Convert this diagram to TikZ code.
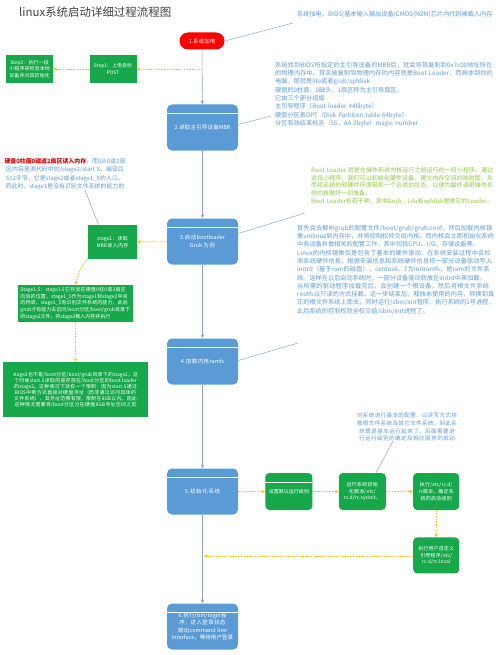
\documentclass[tikz,border=0pt]{standalone}
\usepackage{fontspec}
\setmainfont{Noto Sans CJK SC}
\XeTeXlinebreaklocale "zh"
\XeTeXlinebreakskip = 0pt plus 0.5pt
\usetikzlibrary{arrows.meta,positioning}

\definecolor{boxblue}{HTML}{5B9BD5}
\definecolor{boxgreen}{HTML}{17A84B}
\definecolor{notegreen}{HTML}{8DC63F}
\definecolor{noteblue}{HTML}{5B9BD5}
\definecolor{flowline}{HTML}{8AA5C8}
\definecolor{dotorange}{HTML}{FFC000}
\definecolor{titlegray}{HTML}{3F3F3F}

\begin{document}
\begin{tikzpicture}[x=1bp,y=-1bp,>={Stealth[length=4bp,width=3.4bp]},
  mainbox/.style={fill=boxblue,rounded corners=5bp,text=white,align=center,
             minimum width=71bp,minimum height=46bp,text width=64bp,inner sep=1bp,
             font=\fontsize{5.5}{7.5}\selectfont,
             path picture={\draw[white,line width=0.4bp]
               ([yshift=-8.5bp]path picture bounding box.north west) --
               ([yshift=-8.5bp]path picture bounding box.north east);}},
  stepbox/.style={fill=boxgreen,text=white,align=center,inner sep=1.5bp,
             font=\fontsize{5}{6.8}\selectfont},
  taskbox/.style={stepbox,rounded corners=4bp,minimum width=47bp,
             minimum height=37bp,text width=42bp},
  note/.style={text=noteblue,align=left,inner sep=0pt,
             font=\fontsize{6.2}{8.3}\selectfont},
  flow/.style={draw=flowline,line width=0.6bp,->},
  dots/.style={draw=dotorange,line width=0.9bp,dash pattern=on 1.4bp off 1.4bp,
             -{Stealth[length=3.6bp,width=3.4bp]}},
  leader/.style={draw=flowline,line width=0.5bp}]

\useasboundingbox (0,0) rectangle (500,655);

% ---- title ----
\node[anchor=west,inner sep=0pt,text=titlegray,font=\fontsize{11.5}{13}\selectfont]
  (title) at (19,12) {linux系统启动详细过程流程图};

% ---- main column ----
\node[fill=red,text=white,rounded corners=8.5bp,minimum width=45bp,minimum height=17bp,
      inner sep=0pt,font=\fontsize{5.5}{7}\selectfont] (power) at (202,41) {1.系统加电};
\node[mainbox] (mbr)   at (202.5,127.5) {2.读取主引导设备MBR};
\node[mainbox] (boot)  at (202.5,241.5) {3.启动bootloader\\Grub为例};
\node[mainbox] (ramfs) at (202.5,361.5) {4.加载内核ramfs};
\node[mainbox] (init)  at (202.5,491.5) {5.初始化系统};
\node[mainbox] (login) at (202.5,626.5)
  {6.执行/bin/login程序，进入登录状态\\输出command line interface，等待用户登录};

\foreach \a/\b in {power/mbr,mbr/boot,boot/ramfs,ramfs/init,init/login}
  \draw[flow] (\a) -- (\b);

% ---- power on: POST ----
\coordinate (tap) at (202,69);
\node[stepbox,minimum width=46bp,minimum height=28bp,text width=44bp,
      font=\fontsize{4.9}{6.8}\selectfont] (step1) at (113,69)
  {Step1：上电自检\\POST};
\node[stepbox,minimum width=47bp,minimum height=28bp,text width=44bp,left=36bp of step1] (step2)
  {Step2：执行一段小程序来检验本地设备并对其初始化};
\draw[dots] (tap) -- (step1);
\draw[dots] (step1) -- (step2);

% ---- grub stages ----
\node[stepbox,minimum width=49bp,minimum height=34bp,text width=44bp] (stage1) at (112.5,242)
  {stage1：读取MBR读入内存};
\node[stepbox,minimum width=115bp,minimum height=37bp,text width=110bp,align=left] (stage15)
  at (75.5,303.5)
  {Stage1.5：stage1.5它存放在硬盘0柱0道3扇区向后的位置，stage1\_5作为stage1和stage2中间的桥梁，stage1\_5有识别文件系统的能力，此后grub才有能力去访问/boot分区/boot/grub目录下的stage2文件，将stage2载入内存并执行};
\node[stepbox,minimum width=145bp,minimum height=55bp,text width=136bp,
      font=\fontsize{4.9}{6}\selectfont] (stage2) at (75.5,389.5)
  {stage2也不是/boot分区/boot/grub目录下的stage2，这个时候start.S读取的是存放在/boot分区的boot.loader的stage2。这种情况下就有一个限制：因为start.S通过BIOS中断方式直接对硬盘寻址（而非通过访问具体的文件系统），其寻址范围有限，限制在8GB以内。因此这种情况需要将/boot分区分在硬盘8GB寻址空间之前};
\draw[dots] (boot) -- (stage1);
\draw[dots] (stage1.south west) .. controls (80,268) .. (stage15.north);
\draw[dots] (stage15) -- (stage2);

\node[note,anchor=north,text width=122bp,align=center,font=\fontsize{5.9}{8.4}\selectfont]
  (sector) at (65,158)
  {{\color{red!85!black}\bfseries 硬盘0柱面0磁道2扇区读入内存}，而0头0道2扇区内容是源代码中的/stage2/start.S，编译后512字节，它是stage2或者stage1\_5的入口。而此时，stage1是没有识别文件系统的能力的};
\draw[leader] ([xshift=20bp]sector.south) -- ([xshift=-14bp]stage1.north);

% ---- init: run levels ----
\node[taskbox,right=27bp of init,
      path picture={\draw[white,line width=0.3bp]
        ([yshift=-9bp]path picture bounding box.north west) --
        ([yshift=-9bp]path picture bounding box.north east);}] (runlevel) {设置默认运行级别};
\node[taskbox,right=26bp of runlevel] (sysinit) {运行系统初始化脚本/etc/rc.d/rc.sysinit。};
\node[taskbox,right=27bp of sysinit,minimum width=46bp] (rcscript) {执行/etc/rc.d/rc脚本，确定系统的启动级别};
\node[taskbox,below=27bp of rcscript,minimum width=46bp,minimum height=36bp] (rclocal)
  {执行用户自定义引导程序/etc/rc.d/rc.local};
\coordinate (back) at (203.5,556);
\draw[dots] (init) -- (runlevel);
\draw[dots] (runlevel) -- (sysinit);
\draw[dots] (sysinit) -- (rcscript);
\draw[dots] (rcscript) -- (rclocal);
\draw[dots] (rclocal.west |- back) -- (back);

% ---- notes on the right ----
\node[note,anchor=west] (n1) at (297,15)
  {系统加电，BIOS(基本输入输出设备)CMOS(ROM)芯片内代码被载入内存};
\node[note,anchor=north west,text width=220bp] (n2) at (275,62)
  {系统找到BIOS所指定的主引导设备的MBR后，就会将其复制到0x7c00地址所在的物理内存中。其实被复制到物理内存的内容就是Boot Loader，而具体到你的电脑，那就是lilo或者grub/spfdisk\\
   硬盘的0柱面，0磁头，1扇区称为主引导扇区。\\
   它由三个部分组成\\
   主引导程序（Boot loader 446byte）\\
   硬盘分区表DPT（Disk Partition table 64byte）\\
   分区有效结束标志（55，AA 2byte）magic number};
\node[note,anchor=north west,text width=184bp,text=notegreen,font=\fontsize{6}{7.9}\selectfont] (n3) at (311,167)
  {Boot Loader 就是在操作系统内核运行之前运行的一段小程序。通过这段小程序，我们可以初始化硬件设备、建立内存空间的映射图，从而将系统的软硬件环境带到一个合适的状态，以便为最终调用操作系统内核做好一切准备。\\
   Boot Loader有若干种，其中Grub、Lilo和spfdisk是常见的Loader。};
\node[note,anchor=north west,text width=198bp] (n4) at (297,225)
  {首先会去解析grub的配置文件/boot/grub/grub.conf，然后加载内核镜像vmlinuz到内存中，并将控制权转交给内核。而内核会立即初始化系统中各设备并做相关的配置工作，其中包括CPU、I/O、存储设备等。\\
   Linux的内核镜像仅是包含了基本的硬件驱动，在系统安装过程中会检测系统硬件信息，根据安装信息和系统硬件信息将一部分设备驱动写入initrd（基于ram的磁盘），centos6、7为initramfs，是ram的文件系统。这样在以后启动系统时，一部分设备驱动就放在initrd中来加载。\\
   当所需的驱动程序加载完后，会创建一个根设备，然后将根文件系统rootfs以只读的方式挂载，这一步结束后，释放未使用的内存，转换到真正的根文件系统上面去，同时运行/sbin/init程序，执行系统的1号进程，此后系统的控制权就全权交给/sbin/init进程了。};
\node[note,anchor=north,text width=115bp,align=center,font=\fontsize{5.6}{7.6}\selectfont] (n5) at (407,413)
  {对系统进行基本的配置，以读写方式挂载根文件系统及其它文件系统，到此系统算是基本运行起来了，后面需要进行运行级别的确定及相应服务的启动};

% ---- leader lines ----
\coordinate (l1) at (293,23);
\coordinate (l2) at (271,116);
\coordinate (l3) at (305,213);
\coordinate (l4) at (298,343);
\draw[leader] (power.east) -- (l1);
\draw[leader] ([yshift=3bp]mbr.east) -- (l2);
\draw[leader] ([yshift=8bp]boot.east) -- (l3);
\draw[leader] ([yshift=1bp]ramfs.east) -- (l4);
\draw[leader] ([xshift=-14bp]n5.south) -- ([xshift=-10bp]sysinit.north east);
\end{tikzpicture}
\end{document}
